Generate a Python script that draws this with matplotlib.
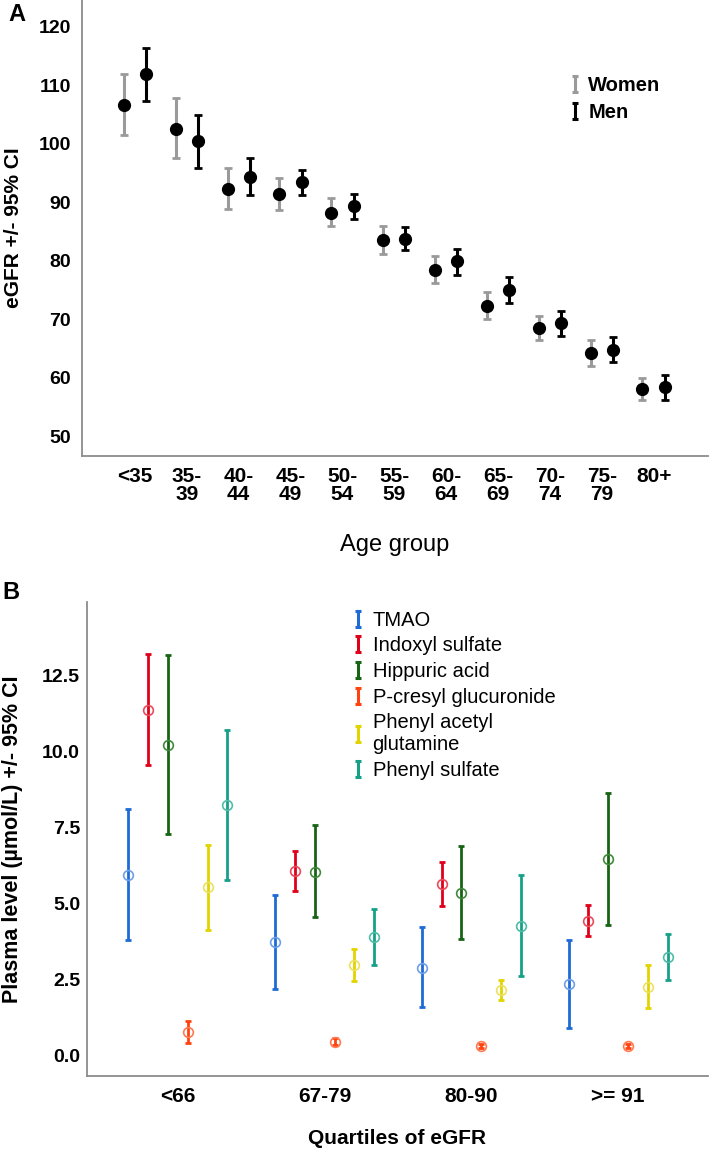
import numpy as np
import matplotlib
matplotlib.use("Agg")
import matplotlib.pyplot as plt
from matplotlib.path import Path
from matplotlib.lines import Line2D

plt.rcParams['font.family'] = ['Liberation Sans', 'DejaVu Sans']

# ---- Panel A: eGFR by age group ----
grupos_edad = ['<35', '35-\n39', '40-\n44', '45-\n49', '50-\n54', '55-\n59',
               '60-\n64', '65-\n69', '70-\n74', '75-\n79', '80+']
mujeres_media = [106.6, 102.6, 92.3, 91.4, 88.2, 83.6, 78.4, 72.3, 68.5, 64.2, 58.1]
mujeres_alto = [111.9, 107.8, 95.8, 94.2, 90.7, 85.9, 80.8, 74.6, 70.6, 66.5, 60.0]
mujeres_bajo = [101.5, 97.5, 88.9, 88.6, 86.0, 81.2, 76.2, 70.0, 66.4, 62.0, 56.2]
hombres_media = [111.9, 100.4, 94.4, 93.4, 89.3, 83.8, 80.0, 75.0, 69.3, 64.8, 58.4]
hombres_alto = [116.4, 104.9, 97.6, 95.6, 91.4, 85.8, 82.0, 77.2, 71.4, 67.0, 60.5]
hombres_bajo = [107.4, 95.8, 91.3, 91.2, 87.1, 81.8, 77.6, 72.8, 67.1, 62.7, 56.2]

# ---- Panel B: plasma levels by eGFR quartile ----
cuartiles = ['<66', '67-79', '80-90', '>= 91']
metabolitos = ['TMAO', 'Indoxyl sulfate', 'Hippuric acid', 'P-cresyl glucuronide',
               'Phenyl acetyl\nglutamine', 'Phenyl sulfate']
colores = ['#1e6bd6', '#e0001a', '#176414', '#ff4310', '#e2d400', '#16a088']
colores_marca = ['#6f9fe8', '#ea4a5a', '#3f8a3a', '#ff7a50', '#ece060', '#4fbca6']
media_b = [
    [5.93, 3.73, 2.89, 2.35],
    [11.38, 6.06, 5.64, 4.43],
    [10.23, 6.04, 5.33, 6.45],
    [0.78, 0.45, 0.31, 0.31],
    [5.53, 2.97, 2.16, 2.25],
    [8.23, 3.89, 4.27, 3.23],
]
alto_b = [
    [8.11, 5.29, 4.22, 3.79],
    [13.20, 6.72, 6.37, 4.95],
    [13.16, 7.57, 6.89, 8.64],
    [1.14, 0.56, 0.38, 0.38],
    [6.93, 3.51, 2.49, 2.97],
    [10.71, 4.82, 5.95, 3.99],
]
bajo_b = [
    [3.79, 2.18, 1.60, 0.91],
    [9.57, 5.42, 4.92, 3.93],
    [7.30, 4.55, 3.82, 4.29],
    [0.42, 0.34, 0.23, 0.23],
    [4.14, 2.45, 1.82, 1.55],
    [5.76, 2.99, 2.61, 2.49],
]

# marcador en forma de "I" para las leyendas
marca_i = Path([(-0.45, -1), (0.45, -1), (0, -1), (0, 1), (-0.45, 1), (0.45, 1)],
               [Path.MOVETO, Path.LINETO, Path.MOVETO, Path.LINETO, Path.MOVETO, Path.LINETO])

fig = plt.figure(figsize=(7.09, 11.5), dpi=100)
gris_eje = '#8c8c8c'


def estilo_ejes(ax):
    for lado in ['top', 'right']:
        ax.spines[lado].set_visible(False)
    for lado in ['left', 'bottom']:
        ax.spines[lado].set_color(gris_eje)
        ax.spines[lado].set_linewidth(1.3)
    ax.tick_params(length=0)


# ================= Panel A =================
axA = fig.add_axes([0.1157, 0.6035, 0.8823, 0.3965])
x = np.arange(len(grupos_edad))
off = 0.215
m = np.array(mujeres_media)
h = np.array(hombres_media)
axA.errorbar(x - off, m, yerr=[m - np.array(mujeres_bajo), np.array(mujeres_alto) - m],
             fmt='none', ecolor='#9a9a9a', elinewidth=2.2, capsize=3, capthick=2)
axA.errorbar(x + off, h, yerr=[h - np.array(hombres_bajo), np.array(hombres_alto) - h],
             fmt='none', ecolor='black', elinewidth=2.2, capsize=3, capthick=2)
axA.plot(x - off, m, 'o', color='black', markersize=8.5)
axA.plot(x + off, h, 'o', color='black', markersize=8.5)

axA.set_xlim(-1.02, 11.04)
axA.set_ylim(46.6, 124.6)
axA.set_yticks(np.arange(50, 121, 10))
axA.set_xticks(x)
axA.set_xticklabels(grupos_edad, fontsize=15, fontweight='bold', linespacing=0.95)
axA.tick_params(axis='x', pad=8)
axA.tick_params(axis='y', pad=8, labelsize=14)
for t in axA.get_yticklabels():
    t.set_fontweight('bold')
estilo_ejes(axA)
axA.set_ylabel('eGFR +/- 95% CI', fontsize=15, fontweight='bold')
axA.yaxis.set_label_coords(-0.095, 0.5)
axA.set_xlabel('Age group', fontsize=17)
axA.xaxis.set_label_coords(0.5, -0.172)

leyA = [Line2D([], [], linestyle='none', marker=marca_i, markersize=11,
               markeredgewidth=2.2, color='#9a9a9a', label='Women'),
        Line2D([], [], linestyle='none', marker=marca_i, markersize=11,
               markeredgewidth=2.2, color='black', label='Men')]
fig.legend(handles=leyA, loc='upper left', bbox_to_anchor=(0.803, 0.934),
           frameon=False, prop={'size': 14.5, 'weight': 'bold'},
           handlelength=0.6, handletextpad=0.35, labelspacing=0.4,
           borderpad=0, borderaxespad=0)
fig.text(0.012, 0.987, 'A', fontsize=17, fontweight='bold', va='center')

# ================= Panel B =================
axB = fig.add_axes([0.1227, 0.0643, 0.8753, 0.4125])
xq = np.arange(len(cuartiles))
paso = 0.135
for k in range(len(metabolitos)):
    pos = xq + (k - 2.5) * paso
    med = np.array(media_b[k])
    err = [med - np.array(bajo_b[k]), np.array(alto_b[k]) - med]
    axB.errorbar(pos, med, yerr=err, fmt='none', ecolor=colores[k],
                 elinewidth=2.0, capsize=2.5, capthick=2)
    axB.plot(pos, med, 'o', markersize=7, markerfacecolor='none',
             markeredgecolor=colores_marca[k], markeredgewidth=1.2)

axB.set_xlim(-0.62, 3.61)
axB.set_ylim(-0.68, 14.93)
axB.set_yticks([0, 2.5, 5, 7.5, 10, 12.5])
axB.set_yticklabels(['0.0', '2.5', '5.0', '7.5', '10.0', '12.5'],
                    fontsize=14, fontweight='bold')
axB.set_xticks(xq)
axB.set_xticklabels(cuartiles, fontsize=15, fontweight='bold')
axB.tick_params(axis='x', pad=8)
axB.tick_params(axis='y', pad=5)
estilo_ejes(axB)
axB.set_ylabel('Plasma level (µmol/L) +/- 95% CI', fontsize=15.5, fontweight='bold')
axB.yaxis.set_label_coords(-0.103, 0.5)
axB.set_xlabel('Quartiles of eGFR', fontsize=15, fontweight='bold')
axB.xaxis.set_label_coords(0.5, -0.112)

leyB = [Line2D([], [], linestyle='none', marker=marca_i, markersize=11,
               markeredgewidth=2.2, color=colores[k], label=metabolitos[k])
        for k in range(len(metabolitos))]
fig.legend(handles=leyB, loc='upper left', bbox_to_anchor=(0.497, 0.469),
           frameon=False, prop={'size': 14.5},
           handlelength=0.6, handletextpad=0.4, labelspacing=0.33,
           borderpad=0, borderaxespad=0)
fig.text(0.004, 0.485, 'B', fontsize=17, fontweight='bold', va='center')

fig.savefig('out.png', dpi=100)
